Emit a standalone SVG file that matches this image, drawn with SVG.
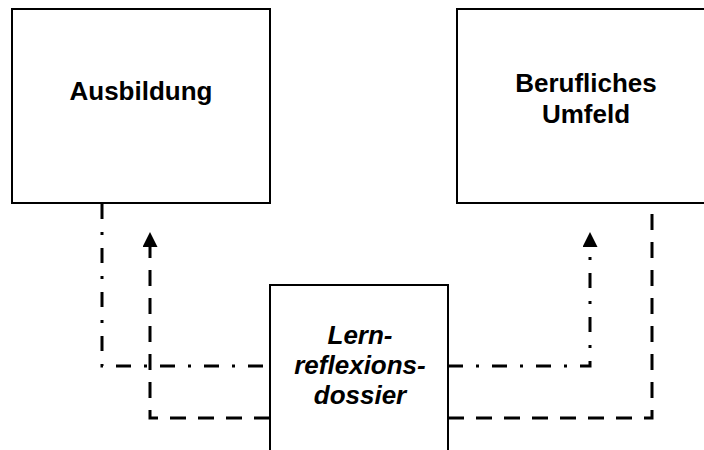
<svg xmlns="http://www.w3.org/2000/svg" width="704" height="450" viewBox="0 0 704 450">
<style>
.box{fill:#fff;stroke:#000;stroke-width:2}
.lbl{font-family:"Liberation Sans",Arial,sans-serif;font-weight:bold;font-size:26px;text-anchor:middle;fill:#000}
.it{font-style:italic}
.dash{fill:none;stroke:#000;stroke-width:3;stroke-dasharray:16 12}
.dashdot{fill:none;stroke:#000;stroke-width:3;stroke-dasharray:15 13 3 13}
</style>
<defs>
<marker id="ah" markerWidth="5" markerHeight="5" refX="0" refY="2.5" orient="auto" markerUnits="strokeWidth">
<path d="M0,0 L5,2.5 L0,5 Z" fill="#000"/>
</marker>
</defs>
<g id="connectors">
<path class="dashdot" d="M102,204 V366 H270"/>
<path class="dashdot" d="M448,366 H590 V247" marker-end="url(#ah)"/>
<path class="dash" d="M270,418 H150 V247" marker-end="url(#ah)"/>
<path class="dash" d="M448,418 H652 V204"/>
</g>
<g id="ausbildung">
<rect class="box" x="12" y="9" width="258" height="194"/>
<text class="lbl" x="141" y="100">Ausbildung</text>
</g>
<g id="berufliches-umfeld">
<rect class="box" x="457" y="9" width="260" height="194"/>
<text class="lbl" x="586" y="92">Berufliches</text>
<text class="lbl" x="586" y="123">Umfeld</text>
</g>
<g id="lernreflexionsdossier">
<rect class="box" x="270" y="285" width="178" height="180"/>
<text class="lbl it" x="360" y="344">Lern-</text>
<text class="lbl it" x="360" y="374">reflexions-</text>
<text class="lbl it" x="360" y="404">dossier</text>
</g>
</svg>
